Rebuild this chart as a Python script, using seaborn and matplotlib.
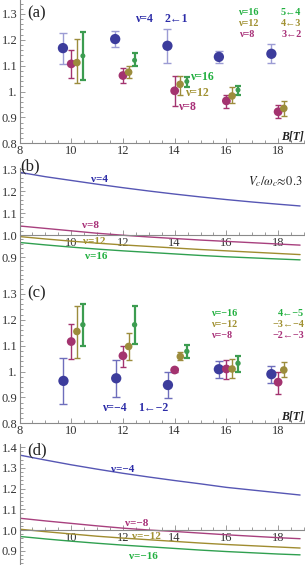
import matplotlib
matplotlib.use("Agg")
import matplotlib.pyplot as plt
import seaborn as sns
import pandas as pd
from matplotlib.ticker import MultipleLocator

# ---------- data: panel (a), electron side ----------
b_blue_a = [9.68, 11.7, 13.72, 15.71, 17.74]
r_blue_a = [1.168, 1.203, 1.177, 1.134, 1.146]
lo_blue_a = [1.106, 1.172, 1.110, 1.111, 1.111]
hi_blue_a = [1.226, 1.235, 1.243, 1.155, 1.185]

b_mag_a = [10.0, 12.0, 14.0, 16.0, 18.0]
r_mag_a = [1.107, 1.062, 1.003, 0.964, 0.922]
lo_mag_a = [1.052, 1.032, 0.946, 0.938, 0.899]
hi_mag_a = [1.162, 1.093, 1.062, 0.985, 0.948]

b_olv_a = [10.22, 12.22, 14.21, 16.22, 18.22]
r_olv_a = [1.112, 1.075, 1.028, 0.983, 0.935]
lo_olv_a = [1.032, 1.052, 0.987, 0.955, 0.907]
hi_olv_a = [1.203, 1.097, 1.062, 1.016, 0.964]

b_grn_a = [10.45, 12.45, 14.47, 16.45]
r_grn_a = [1.138, 1.121, 1.039, 1.006]
lo_grn_a = [1.043, 1.097, 1.019, 0.987]
hi_grn_a = [1.230, 1.149, 1.055, 1.023]

# ---------- data: panel (c), hole side ----------
b_blue_c = [9.7, 11.74, 13.74, 15.71, 17.74]
r_blue_c = [0.964, 0.974, 0.948, 1.009, 0.990]
lo_blue_c = [0.873, 0.903, 0.897, 0.974, 0.955]
hi_blue_c = [1.054, 1.045, 0.997, 1.041, 1.021]

b_mag_c = [10.0, 12.0, 14.0, 16.0, 18.0]
r_mag_c = [1.116, 1.061, 1.006, 1.010, 0.959]
lo_mag_c = [1.049, 1.019, 1.000, 0.972, 0.913]
hi_mag_c = [1.183, 1.097, 1.012, 1.044, 1.000]

b_olv_c = [10.22, 12.22, 14.22, 16.22, 18.22]
r_olv_c = [1.155, 1.097, 1.058, 1.010, 1.006]
lo_olv_c = [1.054, 1.044, 1.045, 0.974, 0.980]
hi_olv_c = [1.254, 1.148, 1.075, 1.047, 1.036]

b_grn_c = [10.45, 12.45, 14.47, 16.45]
r_grn_c = [1.181, 1.181, 1.078, 1.032]
lo_grn_c = [1.097, 1.106, 1.054, 1.000]
hi_grn_c = [1.261, 1.252, 1.101, 1.060]

# ---------- theory curves, panels (b) and (d) ----------
b_curve = [8, 9, 10, 11, 12, 13, 14, 15, 16, 17, 18, 18.85]
th_b_nu4 = [1.285, 1.265, 1.248, 1.231, 1.215, 1.200, 1.186, 1.173, 1.161, 1.150, 1.140, 1.132]
th_b_nu8 = [1.041, 1.030, 1.019, 1.008, 0.999, 0.991, 0.984, 0.977, 0.971, 0.965, 0.959, 0.954]
th_b_nu12 = [0.993, 0.982, 0.972, 0.963, 0.955, 0.948, 0.941, 0.934, 0.928, 0.922, 0.916, 0.911]
th_b_nu16 = [0.966, 0.955, 0.945, 0.936, 0.928, 0.921, 0.914, 0.907, 0.901, 0.896, 0.891, 0.887]

th_d_nu4 = [1.362, 1.338, 1.315, 1.294, 1.274, 1.256, 1.239, 1.223, 1.206, 1.193, 1.180, 1.169]
th_d_nu8 = [1.057, 1.044, 1.032, 1.020, 1.009, 1.000, 0.993, 0.985, 0.977, 0.970, 0.963, 0.958]
th_d_nu12 = [1.004, 0.992, 0.981, 0.970, 0.961, 0.953, 0.945, 0.937, 0.930, 0.924, 0.918, 0.913]
th_d_nu16 = [0.969, 0.957, 0.946, 0.936, 0.927, 0.919, 0.911, 0.903, 0.896, 0.890, 0.884, 0.880]

x_ticks = [8, 10, 12, 14, 16, 18]
x_labels_full = ["8", "10", "12", "14", "16", "18"]
x_labels_cross = ["", "10", "12", "14", "16", "18"]
y_ticks_ac = [0.8, 0.9, 1.0, 1.1, 1.2, 1.3]
y_labels_ac = ["0.8", "0.9", "1.", "1.1", "1.2", "1.3"]
y_ticks_b = [0.9, 1.0, 1.1, 1.2, 1.3]
y_labels_b = ["0.9", "1.0", "1.1", "1.2", "1.3"]
y_ticks_d = [0.9, 1.0, 1.1, 1.2, 1.3, 1.4]
y_labels_d = ["0.9", "1.0", "1.1", "1.2", "1.3", "1.4"]

BLUE, MAG, OLV, GRN = "#3c3c9c", "#a3336f", "#9c8c3c", "#3c9c50"
BLUE_ERR = "#9c9cd4"
BLUE_TXT, MAG_TXT, OLV_TXT, GRN_TXT = "#2c2ca8", "#a83078", "#a09030", "#22b040"
LBLUE, LMAG, LOLV, LGRN = "#5656b4", "#a8407e", "#a08c30", "#30a050"

sns.set_style("ticks")
plt.rcParams["font.family"] = ["Liberation Serif", "DejaVu Serif"]
plt.rcParams["mathtext.fontset"] = "stix"

fig = plt.figure(figsize=(3.05, 5.65), dpi=100)
X0, XW = 19.5 / 305, 285.5 / 305
ax_a = fig.add_axes([X0, 1 - 143.3 / 565, XW, 143.3 / 565])
ax_b = fig.add_axes([X0, 1 - 280.1 / 565, XW, 112.2 / 565])
ax_c = fig.add_axes([X0, 1 - 423.3 / 565, XW, 143.3 / 565])
ax_d = fig.add_axes([X0, 0.0, XW, 120.9 / 565])


def style_axes(ax, ylim, yt, yl, xl, cross):
    ax.set_xlim(8, 19.04)
    ax.set_ylim(*ylim)
    ax.set_facecolor("none")
    for s in ["top", "right"]:
        ax.spines[s].set_visible(False)
    for s in ["left", "bottom"]:
        ax.spines[s].set_color("#8a8a8a")
        ax.spines[s].set_linewidth(0.8)
    if cross:
        ax.spines["bottom"].set_position(("data", 1.0))
    ax.set_xticks(x_ticks)
    ax.set_xticklabels(xl)
    ax.set_yticks(yt)
    ax.set_yticklabels(yl)
    ax.xaxis.set_minor_locator(MultipleLocator(0.5))
    ax.yaxis.set_minor_locator(MultipleLocator(0.02))
    ax.tick_params(which="both", direction="in", color="#8a8a8a", width=0.6,
                   labelsize=9, labelcolor="#333333", pad=1.5)
    ax.tick_params(which="major", length=3.5)
    ax.tick_params(which="minor", length=2)
    ax.set_xlabel("")
    ax.set_ylabel("")


def points(ax, b, r, lo, hi, mcol, ecol, s, cap, lw):
    yerr = [[ri - l for ri, l in zip(r, lo)], [h - ri for ri, h in zip(r, hi)]]
    ax.errorbar(b, r, yerr=yerr, fmt="none", ecolor=ecol, elinewidth=lw,
                capsize=cap, capthick=lw, zorder=2)
    sns.scatterplot(x=b, y=r, ax=ax, color=mcol, s=s, edgecolor="none", zorder=3)


def curves(ax, data, cols):
    df = pd.DataFrame({"B": b_curve * len(data),
                       "r": [v for d in data for v in d],
                       "nu": [i for i in range(len(data)) for _ in b_curve]})
    sns.lineplot(data=df, x="B", y="r", hue="nu", palette=cols, ax=ax,
                 linewidth=1.0, legend=False, estimator=None)


lab = dict(fontweight="bold", fontsize=8.5)
leg = dict(fontweight="bold", fontsize=7.3, va="center")
clab = dict(fontweight="bold", fontsize=8, ha="center", va="center")

# ---- (a)
points(ax_a, b_blue_a, r_blue_a, lo_blue_a, hi_blue_a, BLUE, BLUE_ERR, 55, 2.6, 1.0)
points(ax_a, b_mag_a, r_mag_a, lo_mag_a, hi_mag_a, MAG, MAG, 40, 2.3, 1.0)
points(ax_a, b_olv_a, r_olv_a, lo_olv_a, hi_olv_a, OLV, OLV, 30, 2.3, 1.0)
points(ax_a, b_grn_a, r_grn_a, lo_grn_a, hi_grn_a, GRN, GRN, 13, 2.0, 1.6)
style_axes(ax_a, (0.8, 1.354), y_ticks_ac, y_labels_ac, x_labels_full, False)
ax_a.text(8.3, 1.302, "(a)", fontsize=12, va="center", color="#222222")
ax_a.text(12.52, 1.279, "ν=4", color=BLUE_TXT, va="center", **lab)
ax_a.text(13.62, 1.279, "2←1", color=BLUE_TXT, va="center", **lab)
ax_a.text(16.45, 1.305, "ν=16", color=GRN_TXT, **leg)
ax_a.text(18.9, 1.305, "5←4", color=GRN_TXT, ha="right", **leg)
ax_a.text(16.45, 1.264, "ν=12", color=OLV_TXT, **leg)
ax_a.text(18.9, 1.264, "4←3", color=OLV_TXT, ha="right", **leg)
ax_a.text(16.5, 1.221, "ν=8", color=MAG_TXT, **leg)
ax_a.text(18.9, 1.221, "3←2", color=MAG_TXT, ha="right", **leg)
ax_a.text(14.63, 1.058, "ν=16", color=GRN_TXT, va="center", **lab)
ax_a.text(14.44, 0.993, "ν=12", color=OLV_TXT, va="center", **lab)
ax_a.text(14.17, 0.942, "ν=8", color=MAG_TXT, va="center", **lab)
ax_a.text(19.0, 0.826, "B[T]", ha="right", va="center", fontsize=8.5,
          fontweight="bold", fontstyle="italic", color="#222222")

# ---- (b)
curves(ax_b, [th_b_nu4, th_b_nu8, th_b_nu12, th_b_nu16], [LBLUE, LMAG, LOLV, LGRN])
style_axes(ax_b, (0.795, 1.305), y_ticks_b, y_labels_b, x_labels_cross, True)
ax_b.text(8.03, 1.314, "(b)", fontsize=12, va="center", color="#222222")
ax_b.text(11.1, 1.25, "ν=4", color=BLUE_TXT, **clab)
ax_b.text(10.75, 1.045, "ν=8", color=MAG_TXT, **clab)
ax_b.text(10.9, 0.970, "ν=12", color=OLV_TXT, **clab)
ax_b.text(10.95, 0.901, "ν=16", color=GRN_TXT, **clab)
ax_b.text(18.95, 1.242, r"$V_c/\omega_c\!\approx\!0.3$", ha="right", va="center",
          fontsize=9, color="#222222")

# ---- (c)
points(ax_c, b_blue_c, r_blue_c, lo_blue_c, hi_blue_c, BLUE, "#6e6ebc", 55, 2.6, 1.0)
points(ax_c, b_mag_c, r_mag_c, lo_mag_c, hi_mag_c, MAG, MAG, 40, 2.3, 1.0)
points(ax_c, b_olv_c, r_olv_c, lo_olv_c, hi_olv_c, OLV, OLV, 30, 2.3, 1.0)
points(ax_c, b_grn_c, r_grn_c, lo_grn_c, hi_grn_c, GRN, GRN, 15, 2.0, 1.6)
style_axes(ax_c, (0.8, 1.354), y_ticks_ac, y_labels_ac, x_labels_full, False)
ax_c.text(8.3, 1.302, "(c)", fontsize=12, va="center", color="#222222")
ax_c.text(11.21, 0.860, "ν=−4", color=BLUE_TXT, va="center", **lab)
ax_c.text(12.6, 0.860, "1←−2", color=BLUE_TXT, va="center", **lab)
ax_c.text(15.4, 1.224, "ν=−16", color=GRN_TXT, **leg)
ax_c.text(19.0, 1.224, "4←−5", color=GRN_TXT, ha="right", **leg)
ax_c.text(15.4, 1.181, "ν=−12", color=OLV_TXT, **leg)
ax_c.text(19.0, 1.181, "−3←−4", color=OLV_TXT, ha="right", **leg)
ax_c.text(15.4, 1.138, "ν=−8", color=MAG_TXT, **leg)
ax_c.text(19.0, 1.138, "−2←−3", color=MAG_TXT, ha="right", **leg)
ax_c.text(19.0, 0.826, "B[T]", ha="right", va="center", fontsize=8.5,
          fontweight="bold", fontstyle="italic", color="#222222")

# ---- (d)
curves(ax_d, [th_d_nu4, th_d_nu8, th_d_nu12, th_d_nu16], [LBLUE, LMAG, LOLV, LGRN])
style_axes(ax_d, (0.831, 1.415), y_ticks_d, y_labels_d, x_labels_cross, True)
ax_d.text(8.3, 1.386, "(d)", fontsize=12, va="center", color="#222222")
ax_d.text(12.0, 1.293, "ν=−4", color=BLUE_TXT, **clab)
ax_d.text(12.55, 1.032, "ν=−8", color=MAG_TXT, **clab)
ax_d.text(12.9, 0.968, "ν=−12", color=OLV_TXT, **clab)
ax_d.text(12.8, 0.874, "ν=−16", color=GRN_TXT, **clab)

fig.savefig("out.png", dpi=100)
